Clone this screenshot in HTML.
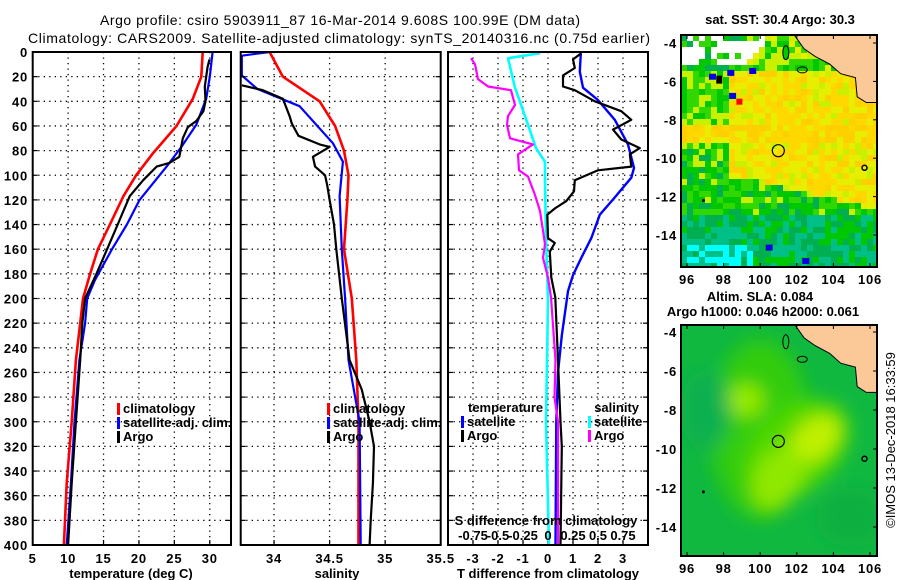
<!DOCTYPE html>
<html><head><meta charset="utf-8"><style>
html,body{margin:0;padding:0;background:#fff;}
svg{display:block;font-family:"Liberation Sans",sans-serif;}
.tk{font-size:13px;font-weight:bold;letter-spacing:0.8px;}
.lg{font-size:13px;font-weight:bold;}
</style></head><body>
<svg id="fig" width="900" height="580" viewBox="0 0 900 580">
<defs>
<filter id="blur8" x="-50%" y="-50%" width="200%" height="200%"><feGaussianBlur stdDeviation="9"/></filter>
<clipPath id="clipm1"><rect x="681" y="35" width="196" height="232"/></clipPath>
<clipPath id="clipm2"><rect x="681" y="325" width="196" height="231"/></clipPath>
</defs>
<text x="340" y="25" text-anchor="middle" font-size="14" textLength="480">Argo profile: csiro 5903911_87 16-Mar-2014 9.608S 100.99E (DM data)</text>
<text x="339" y="43" text-anchor="middle" font-size="14" textLength="622">Climatology: CARS2009. Satellite-adjusted climatology: synTS_20140316.nc (0.75d earlier)</text>
<g id="plots"></g>
<g id="maps"></g>
</svg>
<script>
// ---------- data ----------
const depthTicks = [0,20,40,60,80,100,120,140,160,180,200,220,240,260,280,300,320,340,360,380,400];
const tempTicks = [5,10,15,20,25,30];
const salTicks = [34,34.5,35,35.5];
const salTickLabels = ["34","34.5","35","35.5"];
const tdiffTicks = [-3,-2,-1,0,1,2,3];
const sdiffTicks = [-0.75,-0.5,-0.25,0,0.25,0.5,0.75];
const sdiffTickLabels = ["-0.75","-0.5","-0.25","0","0.25","0.5","0.75"];

const tClimDepth = [0,20,38,60,82,100,117,140,160,180,200,220,250,300,350,400];
const tClimVal   = [29.0,28.8,27.6,25.3,22.0,19.6,17.8,15.9,14.2,13.1,12.1,11.7,11.1,10.5,9.8,9.4];
const tSatDepth  = [0,20,38,59,77,93,120,140,160,185,200,220,250,300,350,400];
const tSatVal    = [30.4,30.0,29.5,28.1,26.0,23.9,20.1,18.3,16.2,13.8,12.7,12.4,11.6,10.9,10.4,9.8];
const tArgoDepth = [6,12,20,28,40,48,56,61,70,85,90,93,104,117,140,160,180,200,220,250,300,350,400];
const tArgoVal   = [29.97,29.7,29.5,29.3,29.4,29.1,28.1,26.9,26.2,25.7,24.3,22.5,20.6,18.7,17.0,15.5,14.0,12.4,12.0,11.7,11.1,10.5,10.0];

const sClimDepth = [0,20,40,60,80,100,120,160,200,250,300,400];
const sClimVal   = [33.96,34.08,34.41,34.55,34.63,34.67,34.66,34.63,34.70,34.74,34.76,34.76];
const sSatDepth  = [0,3,19,30,44,74,89,117,160,200,250,300,400];
const sSatVal    = [33.96,33.71,33.71,33.85,34.23,34.53,34.62,34.59,34.61,34.64,34.67,34.77,34.78];
const sArgoDepth = [27,31,38,52,58,68,75,77,85,93,100,109,120,140,160,200,250,274,300,320,350,380,400];
const sArgoVal   = [33.71,33.9,34.08,34.14,34.16,34.22,34.41,34.5,34.35,34.37,34.46,34.48,34.5,34.54,34.56,34.61,34.68,34.79,34.86,34.9,34.89,34.87,34.86];

const dTSatDepth = [1,16,29,39,55,75,94,102,118,132,151,167,181,194,204,230,260,300,400];
const dTSatVal   = [1.31,1.27,1.4,2.0,2.67,3.2,3.44,3.33,2.67,2.07,1.73,1.33,1.0,0.8,0.73,0.55,0.4,0.33,0.3];
const dTArgoDepth = [1,6,13,19,28,31,40,48,55,63,71,78,83,93,96,104,113,121,127,132,151,155,162,183,199,250,300,320,400];
const dTArgoVal   = [1.33,1.0,1.07,0.6,0.6,1.07,1.87,2.93,3.33,2.6,2.93,3.67,3.27,3.33,2.0,1.07,1.04,0.73,0.27,-0.03,0.0,0.27,0.07,0.13,0.29,0.4,0.5,0.55,0.5];
const dSSatDepth = [1,5,29,59,78,89,102,129,156,202,300,400];
const dSSatVal   = [-0.08,-0.4,-0.33,-0.2,-0.12,-0.03,-0.03,-0.025,-0.018,0.0,-0.02,0.01];
const dSArgoDepth = [5,10,22,28,31,43,52,59,70,75,83,96,101,116,129,145,156,167,183,199,250,280,300,350,400];
const dSArgoVal   = [-0.77,-0.73,-0.7,-0.6,-0.37,-0.33,-0.4,-0.41,-0.38,-0.15,-0.3,-0.29,-0.2,-0.13,-0.08,-0.05,-0.03,-0.05,0.0,0.03,0.075,0.065,0.1,0.1,0.1];

// ---------- helpers ----------
const NS = "http://www.w3.org/2000/svg";
const plots = document.getElementById('plots');
function mk(tag, attrs, parent){ const e=document.createElementNS(NS,tag); for(const k in attrs) e.setAttribute(k,attrs[k]); (parent||plots).appendChild(e); return e; }
const Y0=52, Y1=545;
function yDepth(d){ return Y0 + d/400*(Y1-Y0); }
const P1={x0:32.7,x1:231, v0:5, v1:33};
const P2={x0:240.7,x1:440.7, v0:33.7, v1:35.5};
const P3={x0:448,x1:648, v0:-4, v1:4};
function xs(p,v){ return p.x0 + (v-p.v0)/(p.v1-p.v0)*(p.x1-p.x0); }
function xsS(v){ return xs(P3, v*4); }

function frame(p,name){
  const g=mk('g',{});
  
  
  depthTicks.forEach(d=>{ if(d>0&&d<400){ const l=mk('line',{x1:p.x0,x2:p.x1,y1:yDepth(d),y2:yDepth(d),stroke:'#000','stroke-width':1.3,'stroke-dasharray':'1.3,4.2'},g);
      }});
  return g;
}
function vgrid(g,p,vals,fn){
  vals.forEach(v=>{ const x=fn(v); if(x>p.x0+1&&x<p.x1-1){ const l=mk('line',{x1:x,x2:x,y1:Y0,y2:Y1,stroke:'#000','stroke-width':1.3,'stroke-dasharray':'1.3,4.2'},g);
     
    const t1=mk('line',{x1:x,x2:x,y1:Y1,y2:Y1-5,stroke:'#000','stroke-width':1.2},g);   }});
}
function border(p,name){
  const r=mk('rect',{x:p.x0,y:Y0,width:p.x1-p.x0,height:Y1-Y0,fill:'none',stroke:'#000','stroke-width':2});
   
  depthTicks.forEach(d=>{ const t=mk('line',{x1:p.x0,x2:p.x0+5,y1:yDepth(d),y2:yDepth(d),stroke:'#000','stroke-width':1.2});  
    const t2=mk('line',{x1:p.x1,x2:p.x1-5,y1:yDepth(d),y2:yDepth(d),stroke:'#000','stroke-width':1.2});   });
}
function series(depths, vals, fn, color, w, name){
  const pts = depths.map((d,i)=> fn(vals[i]).toFixed(1)+','+yDepth(d).toFixed(1)).join(' ');
  const pl = mk('polyline',{points:pts,fill:'none',stroke:color,'stroke-width':w,'stroke-linejoin':'round'});
  
  
}
function txt(x,y,s,cls,anchor,name,extra){
  const t=mk('text',Object.assign({x:x,y:y,'class':cls,'text-anchor':anchor||'start'},extra||{}));
  t.textContent=s;
  
  
  return t;
}
function legend(x,y,items,name){
  items.forEach((it,i)=>{
    const b=mk('rect',{x:x,y:y+i*14-10,width:3,height:12,fill:it[1]});
    
    
    txt(x+6,y+i*14,it[0],'lg','start',name+'-entry');
  });
}

// ---------- panel 1 temperature ----------
let g1=frame(P1,'temperature-panel');
vgrid(g1,P1,tempTicks,v=>xs(P1,v));
series(tClimDepth,tClimVal,v=>xs(P1,v),'#ff0000',2.6,'temp-climatology-line');
series(tSatDepth,tSatVal,v=>xs(P1,v),'#0000ff',2.2,'temp-satellite-line');
series(tArgoDepth,tArgoVal,v=>xs(P1,v),'#000',2.2,'temp-argo-line');
border(P1,'temperature-axes-frame');
depthTicks.forEach(d=>txt(28,yDepth(d)+5,String(d),'tk','end','depth-tick-label'));
tempTicks.forEach(v=>txt(xs(P1,v),563,String(v),'tk','middle','temp-tick-label'));
txt(131,578,'temperature (deg C)','lg','middle','temp-axis-title');
legend(117,413,[['climatology','#ff0000'],['satellite-adj. clim.','#0000ff'],['Argo','#000']],'temp-legend');

// ---------- panel 2 salinity ----------
let g2=frame(P2,'salinity-panel');
vgrid(g2,P2,salTicks,v=>xs(P2,v));
series(sClimDepth,sClimVal,v=>xs(P2,v),'#ff0000',2.6,'sal-climatology-line');
series(sSatDepth,sSatVal,v=>xs(P2,v),'#0000ff',2.2,'sal-satellite-line');
series(sArgoDepth,sArgoVal,v=>xs(P2,v),'#000',2.2,'sal-argo-line');
border(P2,'salinity-axes-frame');
salTicks.forEach((v,i)=>txt(xs(P2,v),563,salTickLabels[i],'tk','middle','sal-tick-label'));
txt(337,578,'salinity','lg','middle','sal-axis-title');
legend(327,413,[['climatology','#ff0000'],['satellite-adj. clim.','#0000ff'],['Argo','#000']],'sal-legend');

// ---------- panel 3 differences ----------
let g3=frame(P3,'difference-panel');
vgrid(g3,P3,tdiffTicks,v=>xs(P3,v));
series(dSSatDepth,dSSatVal,xsS,'#00ffff',2.6,'sal-diff-satellite-line');
series(dTSatDepth,dTSatVal,v=>xs(P3,v),'#0000ff',2.4,'temp-diff-satellite-line');
series(dSArgoDepth,dSArgoVal,xsS,'#ff00ff',2.2,'sal-diff-argo-line');
series(dTArgoDepth,dTArgoVal,v=>xs(P3,v),'#000',2.2,'temp-diff-argo-line');
border(P3,'difference-axes-frame');
tdiffTicks.forEach(v=>txt(xs(P3,v),563,String(v),'tk','middle','tdiff-tick-label'));
txt(548,578,'T difference from climatology','lg','middle','tdiff-axis-title');
sdiffTicks.forEach((v,i)=>txt(xsS(v),540,sdiffTickLabels[i],'lg','middle','sdiff-tick-label'));
txt(546,525,'S difference from climatology','lg','middle','sdiff-axis-title');
txt(468,412,'temperature','lg','start','diff-legend-temp-heading');
legend(461,426,[['satellite','#0000ff'],['Argo','#000']],'diff-legend-temp');
txt(639,412,'salinity','lg','end','diff-legend-sal-heading');
legend(588,426,[['satellite','#00ffff'],['Argo','#ff00ff']],'diff-legend-sal');

// ---------- maps ----------
const maps=document.getElementById('maps');
function mm(tag,attrs,parent){ return mk(tag,attrs,parent||maps); }
const M1={x0:681,x1:877,y0:35,y1:267, lx:687, ly:43, sx:18.3, sy:19.2};
const M2={x0:681,x1:877,y0:325,y1:556, lx:687, ly:332, sx:18.3, sy:19.5};
function mx(M,lon){ return M.lx+(lon-96)*M.sx; }
function my(M,lat){ return M.ly+(-4-lat)*M.sy; }
function hash(i,j){ let h=Math.sin(i*127.1+j*311.7)*43758.5453; return h-Math.floor(h); }
const cmap=['#00ffff','#00c088','#00b050','#00c800','#30d800','#c8f000','#e8ee00','#ffd800','#ffd000'];
function score(lon,lat,i,j){
  let s;
  const edge=-10.4-(lon-96)*0.22;
  if(lat>-5.6) s = lon<99 ? 0.4 : 0.55;
  else if(lat>-8.2) s = lon<98.3 ? 0.5 : 0.82;
  else if(lat>-9.3) s = 0.9;
  else if(lat>edge) s = lon<98.2 ? 0.45 : 0.8;
  else if(lat>-13) s = 0.42;
  else s = 0.25;
  if(lat<-14.6 && lon<99.5) s=0.05;
  return s + (hash(i,j)-0.5)*0.35;
}
const g4=mm('g',{'clip-path':'url(#clipm1)'});


mm('rect',{x:681,y:35,width:196,height:232,fill:'#00c800'},g4);
const cw=6, ch=6;
for(let i=0;i<34;i++){ for(let j=0;j<39;j++){
  const x=681+i*cw, y=35+j*ch;
  const lon=96+(x+3-687)/18.3, lat=-4-(y+3-43)/19.2;
  let s=score(lon,lat,i,j);
  let c=cmap[Math.max(0,Math.min(cmap.length-1,Math.round(s*(cmap.length-1))))];
  if(lat>-5 && lon<99.5 && hash(j,i)>0.45) c='#ffffff';
  if(lat>-4.6 && lon<100.4 && lon>97.5 && hash(j,i)>0.3) c='#ffffff';
  mm('rect',{x:x,y:y,width:cw,height:ch,fill:c},g4);
}}
// blue speckles
[[98.2,-5.4],[97.2,-5.6],[99.4,-5.3],[100.3,-14.5],[102.3,-15.2],[98.3,-6.6]].forEach(p=>mm('rect',{x:mx(M1,p[0]),y:my(M1,p[1]),width:7,height:6,fill:'#0000e0'},g4));
mm('rect',{x:mx(M1,98.7),y:my(M1,-6.9),width:6,height:6,fill:'#ff0000'},g4);
mm('rect',{x:mx(M1,97.6),y:my(M1,-5.7),width:6,height:8,fill:'#000'},g4);

const g5=mm('g',{'clip-path':'url(#clipm2)'});


mm('rect',{x:681,y:325,width:196,height:231,fill:'#10b840'},g5);
const gb=mm('g',{filter:'url(#blur8)'},g5);
mm('ellipse',{cx:mx(M2,100),cy:my(M2,-9),rx:50,ry:90,fill:'#30cc10'},gb);
mm('ellipse',{cx:mx(M2,102),cy:my(M2,-10),rx:60,ry:40,fill:'#50d800',transform:'rotate(-40 '+mx(M2,102)+' '+my(M2,-10)+')'},gb);
mm('ellipse',{cx:mx(M2,103),cy:my(M2,-9.5),rx:30,ry:20,fill:'#c0f000',transform:'rotate(-40 '+mx(M2,103)+' '+my(M2,-9.5)+')'},gb);
mm('ellipse',{cx:mx(M2,101),cy:my(M2,-11.5),rx:24,ry:34,fill:'#90e800',transform:'rotate(30 '+mx(M2,101)+' '+my(M2,-11.5)+')'},gb);
mm('ellipse',{cx:mx(M2,99.2),cy:my(M2,-7.5),rx:18,ry:16,fill:'#98ec00'},gb);
mm('ellipse',{cx:mx(M2,97),cy:my(M2,-8),rx:25,ry:40,fill:'#10b050'},gb);
mm('ellipse',{cx:mx(M2,105),cy:my(M2,-13.5),rx:35,ry:30,fill:'#10b040'},gb);

const land=[[101.8,-3.5],[102.4,-4.3],[103.0,-4.7],[103.8,-5.1],[104.4,-5.6],[105.2,-5.8],[105.3,-6.8],[105.8,-7.1],[106.5,-7.1],[106.5,-3.5]];
[[M1,g4,'sst'],[M2,g5,'sla']].forEach(([M,g,nm])=>{
  const pts=land.map(p=>mx(M,p[0]).toFixed(1)+','+my(M,p[1]).toFixed(1)).join(' ');
  const lp=mm('polygon',{points:pts,fill:'#fbc898',stroke:'#000','stroke-width':1},g);
  
  
  mm('ellipse',{cx:mx(M,102.3),cy:my(M,-5.4),rx:5,ry:3,fill:'none',stroke:'#000','stroke-width':1},g);
  mm('ellipse',{cx:mx(M,101.4),cy:my(M,-4.5),rx:3,ry:7,fill:'none',stroke:'#000','stroke-width':1},g);
  mm('circle',{cx:mx(M,105.7),cy:my(M,-10.5),r:2.5,fill:'none',stroke:'#000','stroke-width':1.5},g);
  mm('circle',{cx:mx(M,96.9),cy:my(M,-12.2),r:1.5,fill:'#000'},g);
  const c=mm('circle',{cx:mx(M,100.99),cy:my(M,-9.608),r:6,fill:'none',stroke:'#000','stroke-width':1.2},g);
  
  
  const fr=mm('rect',{x:M.x0,y:M.y0,width:M.x1-M.x0,height:M.y1-M.y0,fill:'none',stroke:'#000','stroke-width':2});
  
  
  [96,98,100,102,104,106].forEach(lon=>{
    const t=mm('line',{x1:mx(M,lon),x2:mx(M,lon),y1:M.y1,y2:M.y1-4,stroke:'#000','stroke-width':1});
     
    const t2=mm('line',{x1:mx(M,lon),x2:mx(M,lon),y1:M.y0,y2:M.y0+4,stroke:'#000','stroke-width':1});
     
    const l=txt(mx(M,lon),M.y1+17,String(lon),'tk','middle',nm+'-lon-label'); maps.appendChild(l);
  });
  [-4,-6,-8,-10,-12,-14].forEach(lat=>{
    const t=mm('line',{x1:M.x1,x2:M.x1-4,y1:my(M,lat),y2:my(M,lat),stroke:'#000','stroke-width':1});
     
    const l=txt(677,my(M,lat)+5,String(lat),'tk','end',nm+'-lat-label'); maps.appendChild(l);
  });
});
maps.appendChild(txt(780,24,'sat. SST: 30.4 Argo: 30.3','lg','middle','sst-map-title'));
maps.appendChild(txt(760,301,'Altim. SLA: 0.084','lg','middle','sla-map-title'));
maps.appendChild(txt(763,316,'Argo h1000: 0.046 h2000: 0.061','lg','middle','sla-map-subtitle'));
maps.appendChild(txt(0,0,'©IMOS 13-Dec-2018 16:33:59','','middle','credit-timestamp',{transform:'translate(895,440) rotate(-90)','font-size':'13'}));
</script>
</body></html>
